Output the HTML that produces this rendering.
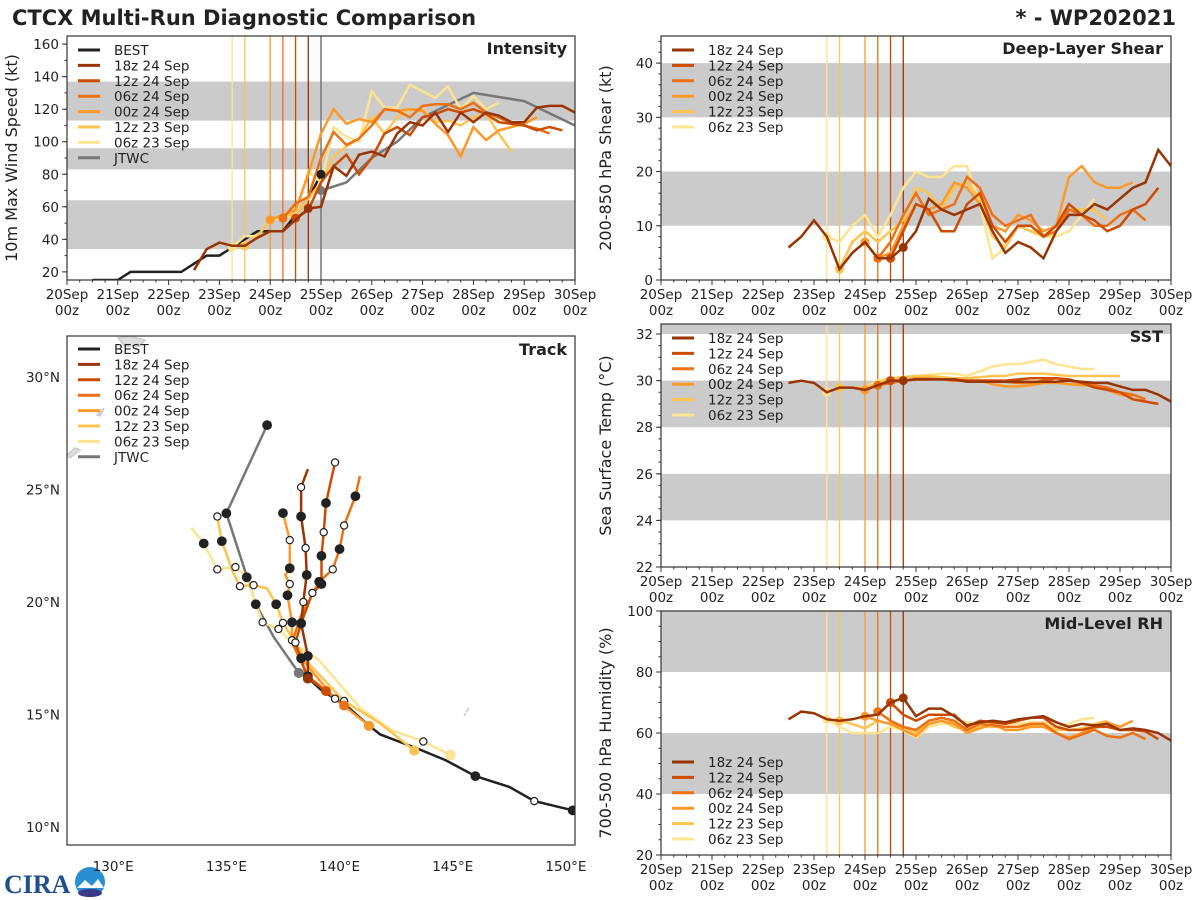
<!DOCTYPE html>
<html><head><meta charset="utf-8">
<style>
html,body{margin:0;padding:0;background:#fff;}
svg{display:block;font-family:"DejaVu Sans","Liberation Sans",sans-serif;}
</style></head>
<body>
<svg id="fig" width="1200" height="900" viewBox="0 0 1200 900" xmlns="http://www.w3.org/2000/svg">
<rect x="0" y="0" width="1200" height="900" fill="#fff"/>
<text x="12" y="25" font-size="21" font-weight="bold" fill="#222">CTCX Multi-Run Diagnostic Comparison</text>
<text x="1176" y="25" font-size="21" font-weight="bold" fill="#222" text-anchor="end">* - WP202021</text>
<g>
<text x="4" y="893" font-size="26" font-weight="bold" fill="#1f4f8f" font-family="Liberation Serif, serif">CIRA</text>
<circle cx="90" cy="882" r="15" fill="#2a8fd0"/>
<path d="M77 888 L85 880 L92 886 L98 879 L104 888 Z" fill="#fff"/>
<ellipse cx="90" cy="893" rx="12" ry="4" fill="#3a3a8a"/>
</g>
</svg>
<script>
// ---- data ----
const runLabels = ['18z 24 Sep','12z 24 Sep','06z 24 Sep','00z 24 Sep','12z 23 Sep','06z 23 Sep'];
const runInit = [24.75, 24.5, 24.25, 24.0, 23.5, 23.25];
const runColors = ['#993404','#cc4c02','#ec7014','#fe9929','#fec44f','#fee391'];
const runNames = ['run-18z24','run-12z24','run-06z24','run-00z24','run-12z23','run-06z23'];

const bestStart = 20.5;
const bestInt = [15,15,15,20,20,20,20,20,25,30,30,35,40,45,45,45,55,65,80];
const jtwcTimes = [25.0,25.5,26.0,26.5,27.0,28.0,29.0,30.0];
const jtwcInt = [70,75,90,100,115,130,125,110];

const intStart = [22.5, 24.5, 24.25, 24.0, 23.5, 23.25];
const int18z24 = [21,34,38,36,36,41,45,45,52,59,60,85,79,92,94,91,105,112,110,118,106,118,112,118,116,112,112,121,122,122,118];
const int12z24 = [53,58,75,85,92,80,90,105,109,104,115,117,120,118,120,117,112,111,110,107,109,107];
const int06z24 = [53,62,66,90,106,98,102,110,120,119,115,122,123,123,120,124,118,115,111,110,108,105];
const int00z24 = [52,55,58,80,105,120,111,114,112,120,119,120,119,111,104,91,109,101,107,109,111,115];
const int12z23 = [36,42,52,55,55,65,75,91,97,102,115,105,115,120,120,112,113,110,115,117,105,94];
const int06z23 = [35,42,42,52,53,55,82,75,109,103,100,131,121,121,135,131,127,134,120,128,120,124];

const shrStart = [22.5, 24.5, 24.25, 24.0, 23.5, 23.25];
const shr18z24 = [6,8,11,8,2,5,7,4,4,6,9,15,13,12,13,14,9,5,7,6,4,9,12,12,14,13,15,17,18,24,21];
const shr12z24 = [4,9,14,13,9,9,14,16,10,7,10,10,8,10,14,12,11,9,10,13,14,17];
const shr06z24 = [4,7,12,16,12,13,14,19,17,12,10,11,12,8,9,13,12,10,10,12,13,11];
const shr00z24 = [7,4,5,10,14,13,14,18,17,14,10,9,12,11,9,10,19,21,18,17,17,18];
const shr12z23 = [2,7,9,7,9,11,17,16,13,17,18,15,8,6,10,9,8,9,13,13,13,11];
const shr06z23 = [8,7,10,12,8,12,17,20,19,19,21,21,14,4,6,10,9,8,8,9,12,15];

const sstStart = [22.5, 24.5, 24.25, 24.0, 23.5, 23.25];
const sst18z24 = [29.9,30.0,29.9,29.5,29.7,29.7,29.6,29.8,30.0,30.0,30.05,30.05,30.05,30.05,29.95,29.95,29.95,29.95,29.95,29.95,29.95,29.95,30.0,29.95,29.9,29.9,29.75,29.6,29.6,29.4,29.1];
const sst12z24 = [30.0,30.0,30.05,30.05,30.05,30.05,30.0,30.0,30.0,30.0,30.05,30.1,30.1,30.1,30.05,29.9,29.7,29.6,29.5,29.2,29.1,29.0];
const sst06z24 = [29.8,29.9,30.0,30.05,30.05,30.05,30.0,30.0,30.0,30.0,29.95,29.9,29.9,30.0,30.1,30.0,29.9,29.8,29.7,29.5,29.4,29.2];
const sst00z24 = [29.6,29.8,29.9,30.0,30.1,30.1,30.05,30.0,30.0,30.0,29.85,29.75,29.75,29.8,29.9,29.9,29.85,29.8,29.8,29.6,29.4,29.3];
const sst12z23 = [29.7,29.7,29.7,29.9,30.1,30.15,30.2,30.2,30.15,30.1,30.1,30.15,30.2,30.2,30.3,30.3,30.3,30.25,30.2,30.2,30.2,30.2,30.2];
const sst06z23 = [29.5,29.7,29.7,29.7,30.0,30.1,30.15,30.2,30.25,30.3,30.3,30.2,30.4,30.6,30.7,30.7,30.8,30.9,30.7,30.6,30.5,30.5];

const rhStart = [22.5, 24.5, 24.25, 24.0, 23.5, 23.25];
const rh18z24 = [64.5,67,66.5,64.5,64,64.5,65.5,66,70,71.5,65.5,68,68,65.5,62.5,63.5,64,63.5,64.5,65,65.5,63.5,62,63,62.5,63,61,61.5,61,60,57.5];
const rh12z24 = [70,66,64,66,66,66,62,64,63.5,63,64,65,65,62,61,61,62,62,61,61,60.5,58];
const rh06z24 = [67,64,62,61,64,65,64,61,63,62.5,62,62,63,63,60,58,59.5,61,59,58.5,60,58];
const rh00z24 = [65.5,64,63,61,59,63,64,63,60,61.5,63,61,61,62,62,60,58.5,60,61.5,63.5,62,64];
const rh12z23 = [64,63,61.5,64,63,62,60,63,64,62,61,62,62,62,62,62.5,63,61,61,61.5,63,64];
const rh06z23 = [64.5,62,60,60,60,62,61,58.5,62,63,64,63.5,63,63,63,63,63.5,63.5,62,63,64.5,65];

// tracks: [lon, lat, marker] marker 0 none, 1 filled, 2 open
const trkBest = [[150.3,10.74,1],[148.6,11.15,2],[147.5,11.78,0],[146.0,12.26,1],[144.7,12.96,0],[143.5,13.46,0],[141.8,14.11,0],[141.3,14.5,0],[140.26,15.43,0],[139.24,16.04,0],[138.56,16.67,0],[138.19,17.0,0]];
const trkJtwc = [[138.2,16.85,1],[137.1,18.43,0],[136.3,19.9,0],[135.0,23.94,1],[136.8,27.86,1]];
const trk18z24 = [[138.6,16.6,1],[138.6,17.6,1],[138.3,19.05,1],[138.4,20.0,2],[138.55,21.2,1],[138.5,22.4,2],[138.3,23.8,1],[138.3,25.1,2],[138.6,25.9,0]];
const trk12z24 = [[139.4,16.04,2],[138.56,16.67,0],[138.05,18.2,2],[138.3,19.05,1],[138.8,20.4,2],[139.2,20.8,1],[139.2,22.05,1],[139.3,23.1,2],[139.4,24.4,1],[139.8,26.2,2]];
const trk06z24 = [[140.2,15.4,0],[138.6,16.7,1],[137.9,18.2,0],[138.3,19.4,0],[139.1,20.9,1],[139.7,21.45,2],[140.0,22.35,1],[140.2,23.4,2],[140.7,24.7,1],[140.9,25.6,0]];
const trk00z24 = [[141.3,14.5,1],[139.8,15.7,2],[138.3,17.5,1],[137.9,18.3,2],[137.9,19.1,1],[137.7,20.3,1],[137.8,20.8,2],[137.6,21.2,0],[137.8,21.5,1],[137.8,22.75,2],[137.5,23.95,1]];
const trk12z23 = [[143.3,13.4,1],[141.8,14.6,0],[140.2,15.6,2],[138.6,17.3,0],[137.5,19.07,2],[137.2,19.9,1],[136.8,20.6,0],[136.2,20.75,2],[135.6,20.7,2],[135.3,21.3,0],[134.8,22.7,1],[134.6,23.8,2]];
const trk06z23 = [[144.9,13.2,1],[143.7,13.8,2],[142.3,14.3,0],[140.9,15.3,0],[139.1,17.4,0],[137.9,18.2,0],[137.3,18.8,2],[136.6,19.1,2],[136.3,19.9,1],[135.9,21.1,1],[135.4,21.55,2],[134.6,21.45,2],[134.0,22.6,1],[133.45,23.3,0]];

const xTickLabels = ['20Sep','21Sep','22Sep','23Sep','24Sep','25Sep','26Sep','27Sep','28Sep','29Sep','30Sep'];
const lonTicks = [130,135,140,145,150];
const latTicks = [10,15,20,25,30];

// ---- drawing ----
const NS = 'http://www.w3.org/2000/svg';
const svg = document.getElementById('fig');
function mk(tag, attrs, parent) {
  const e = document.createElementNS(NS, tag);
  for (const k in attrs) e.setAttribute(k, attrs[k]);
  (parent || svg).appendChild(e);
  return e;
}
function txt(x, y, s, size, anchor, parent, weight) {
  const t = mk('text', {x: x, y: y, 'font-size': size, 'text-anchor': anchor || 'start', fill: '#222'}, parent);
  if (weight) t.setAttribute('font-weight', weight);
  t.textContent = s;
  return t;
}

function timePanel(cfg) {
  const g = mk('g', {});
  
  
  const sx = t => cfg.x0 + (t - 20) / 10 * (cfg.x1 - cfg.x0);
  const sy = v => cfg.y1 - (v - cfg.ymin) / (cfg.ymax - cfg.ymin) * (cfg.y1 - cfg.y0);
  cfg.bands.forEach(b => {
    const top = Math.max(sy(b[1]), cfg.y0), bot = Math.min(sy(b[0]), cfg.y1);
    const r = mk('rect', {x: cfg.x0, y: top, width: cfg.x1 - cfg.x0, height: bot - top, fill: '#cbcbcb'}, g);
    
    
  });
  runInit.forEach((t, i) => {
    const l = mk('line', {x1: sx(t), x2: sx(t), y1: cfg.y0, y2: cfg.y1, stroke: runColors[i], 'stroke-width': 1.3}, g);
    
    
  });
  if (cfg.jtwcLine) {
    const l = mk('line', {x1: sx(25), x2: sx(25), y1: cfg.y0, y2: cfg.y1, stroke: '#777', 'stroke-width': 1.5}, g);
    
    
  }
  const cid = 'clip-' + cfg.name;
  const cp = mk('clipPath', {id: cid}, g);
  mk('rect', {x: cfg.x0, y: cfg.y0, width: cfg.x1 - cfg.x0, height: cfg.y1 - cfg.y0}, cp);
  const sg = mk('g', {'clip-path': 'url(#' + cid + ')'}, g);
  function series(start, vals, color, w, name, dotT) {
    const pts = vals.map((v, i) => sx(start + i * 0.25).toFixed(1) + ',' + sy(v).toFixed(1)).join(' ');
    const p = mk('polyline', {points: pts, fill: 'none', stroke: color, 'stroke-width': w, 'stroke-linejoin': 'miter'}, sg);
    
    
    if (dotT !== undefined) {
      const idx = Math.round((dotT - start) / 0.25);
      if (idx >= 0 && idx < vals.length) {
        const c = mk('circle', {cx: sx(dotT), cy: sy(vals[idx]), r: 4.5, fill: color}, sg);
        
        
      }
    }
  }
  if (cfg.best) {
    series(bestStart, bestInt, '#222', 2.5, 'best-track-line', 25.0);
    const pts = jtwcTimes.map((t, i) => sx(t).toFixed(1) + ',' + sy(jtwcInt[i]).toFixed(1)).join(' ');
    const p = mk('polyline', {points: pts, fill: 'none', stroke: '#777', 'stroke-width': 2.5}, sg);
    
    
    const c = mk('circle', {cx: sx(jtwcTimes[0]), cy: sy(jtwcInt[0]), r: 4.5, fill: '#777'}, sg);
    
    
  }
  for (let i = 5; i >= 0; i--) series(cfg.starts[i], cfg.data[i], runColors[i], 2.5, runNames[i] + '-line', runInit[i]);
  if (cfg.best) {
    const bi = bestInt.length - 1;
    const c = mk('circle', {cx: sx(bestStart + bi * 0.25), cy: sy(bestInt[bi]), r: 4.5, fill: '#222'}, sg);
    
    
  }
  const fr = mk('rect', {x: cfg.x0, y: cfg.y0, width: cfg.x1 - cfg.x0, height: cfg.y1 - cfg.y0, fill: 'none', stroke: '#333', 'stroke-width': 1.2}, g);
  
  
  for (let q = 0; q <= 40; q++) {
    const x = sx(20 + q * 0.25), major = q % 4 === 0;
    mk('line', {x1: x, x2: x, y1: cfg.y1, y2: cfg.y1 + (major ? 5 : 2.5), stroke: '#333', 'stroke-width': 1}, g);
  }
  xTickLabels.forEach((s, i) => {
    const t1 = txt(sx(20 + i), cfg.y1 + 19, s, 13.5, 'middle', g);
    
    
    const t2 = txt(sx(20 + i), cfg.y1 + 35, '00z', 13.5, 'middle', g);
    
    
  });
  cfg.yTicks.forEach(v => {
    const y = sy(v);
    mk('line', {x1: cfg.x0 - 5, x2: cfg.x0, y1: y, y2: y, stroke: '#333'}, g);
    const t = txt(cfg.x0 - 8, y + 5, String(v), 13.5, 'end', g);
    
    
  });
  for (let v = cfg.minorStart; v < cfg.ymax; v += cfg.minorStep) {
    if (v < cfg.ymin) continue;
    const y = sy(v);
    mk('line', {x1: cfg.x0 - 2.5, x2: cfg.x0, y1: y, y2: y, stroke: '#333'}, g);
  }
  const cy = (cfg.y0 + cfg.y1) / 2;
  const yl = txt(0, 0, cfg.ylabel, 16, 'middle', g);
  yl.setAttribute('transform', 'translate(' + (cfg.x0 - 50) + ',' + cy + ') rotate(-90)');
  
  
  const tt = txt(cfg.x1 - 8, cfg.y0 + 18, cfg.title, 16, 'end', g, 'bold');
  
  
  const items = [];
  if (cfg.best) items.push(['BEST', '#222']);
  runLabels.forEach((l, i) => items.push([l, runColors[i]]));
  if (cfg.best) items.push(['JTWC', '#777']);
  items.forEach((it, i) => {
    const y = cfg.legY + i * 15.4;
    const ln = mk('line', {x1: cfg.x0 + 11, x2: cfg.x0 + 33, y1: y, y2: y, stroke: it[1], 'stroke-width': 3}, g);
    
    
    const t = txt(cfg.x0 + 47, y + 5, it[0], 13.5, 'start', g);
    
    
  });
}

timePanel({name: 'intensity-panel', x0: 67, x1: 575, y0: 36, y1: 280, ymin: 15, ymax: 165,
  bands: [[34, 64], [83, 96], [113, 137]], yTicks: [20,40,60,80,100,120,140,160], minorStart: 20, minorStep: 10,
  ylabel: '10m Max Wind Speed (kt)', title: 'Intensity', best: true, jtwcLine: true, legY: 50,
  starts: intStart, data: [int18z24, int12z24, int06z24, int00z24, int12z23, int06z23]});
timePanel({name: 'shear-panel', x0: 661, x1: 1171, y0: 36, y1: 280, ymin: 0, ymax: 45,
  bands: [[10, 20], [30, 40]], yTicks: [0,10,20,30,40], minorStart: 0, minorStep: 2,
  ylabel: '200-850 hPa Shear (kt)', title: 'Deep-Layer Shear', best: false, legY: 50,
  starts: shrStart, data: [shr18z24, shr12z24, shr06z24, shr00z24, shr12z23, shr06z23]});
timePanel({name: 'sst-panel', x0: 661, x1: 1171, y0: 324, y1: 567, ymin: 22, ymax: 32.43,
  bands: [[24, 26], [28, 30], [32, 40]], yTicks: [22,24,26,28,30,32], minorStart: 22, minorStep: 0.5,
  ylabel: 'Sea Surface Temp (°C)', title: 'SST', best: false, legY: 338,
  starts: sstStart, data: [sst18z24, sst12z24, sst06z24, sst00z24, sst12z23, sst06z23]});
timePanel({name: 'rh-panel', x0: 661, x1: 1171, y0: 611, y1: 855, ymin: 20, ymax: 100,
  bands: [[40, 60], [80, 100]], yTicks: [20,40,60,80,100], minorStart: 20, minorStep: 5,
  ylabel: '700-500 hPa Humidity (%)', title: 'Mid-Level RH', best: false, legY: 762,
  starts: rhStart, data: [rh18z24, rh12z24, rh06z24, rh00z24, rh12z23, rh06z23]});

(function() {
  const x0 = 67, x1 = 575, y0 = 336, y1 = 845;
  const lonMin = 127.96, lonMax = 150.4, latMin = 9.2, latMax = 31.82;
  const sx = lon => x0 + (lon - lonMin) / (lonMax - lonMin) * (x1 - x0);
  const sy = lat => y1 - (lat - latMin) / (latMax - latMin) * (y1 - y0);
  const g = mk('g', {});
  
  
  const cp = mk('clipPath', {id: 'clip-track'}, g);
  mk('rect', {x: x0, y: y0, width: x1 - x0, height: y1 - y0}, cp);
  const sg = mk('g', {'clip-path': 'url(#clip-track)'}, g);
  const coast = mk('path', {d: 'M118 338 L130 336 L145 340 L140 346 L125 346 Z M67 455 L75 448 L80 450 L70 458 Z M97 415 L104 408 L100 416 Z M466 712 L469 708 M464 716 L466 713', fill: '#ddd', stroke: '#ccc', 'stroke-width': 1.5}, sg);
  
  
  function track(pts, color, name) {
    const p = mk('polyline', {points: pts.map(q => sx(q[0]).toFixed(1) + ',' + sy(q[1]).toFixed(1)).join(' '), fill: 'none', stroke: color, 'stroke-width': 2.5}, sg);
    
    
  }
  function markers(pts, name) {
    pts.forEach(q => {
      if (!q[2]) return;
      const c = mk('circle', {cx: sx(q[0]), cy: sy(q[1]), r: q[2] === 1 ? 4.3 : 3.6, fill: q[2] === 1 ? '#222' : '#fff', stroke: '#222', 'stroke-width': 1.2}, sg);
      
      
    });
  }
  const runs = [trk18z24, trk12z24, trk06z24, trk00z24, trk12z23, trk06z23];
  track(trkBest, '#222', 'best-track');
  track(trkJtwc, '#777', 'jtwc-track');
  for (let i = 5; i >= 0; i--) track(runs[i], runColors[i], runNames[i] + '-track');
  markers(trkBest, 'best-track');
  markers(trkJtwc, 'jtwc-track');
  for (let i = 5; i >= 0; i--) markers(runs[i], runNames[i] + '-track');
  for (let i = 0; i < 6; i++) {
    const c = mk('circle', {cx: sx(runs[i][0][0]), cy: sy(runs[i][0][1]), r: 5, fill: runColors[i]}, sg);
    
    
  }
  const jc = mk('circle', {cx: sx(trkJtwc[0][0]), cy: sy(trkJtwc[0][1]), r: 5, fill: '#777'}, sg);
  
  
  const fr = mk('rect', {x: x0, y: y0, width: x1 - x0, height: y1 - y0, fill: 'none', stroke: '#333', 'stroke-width': 1.2}, g);
  
  
  lonTicks.forEach(l => {
    const t = txt(sx(l), 871, l + '°E', 13.5, 'middle', g);
    
    
  });
  latTicks.forEach(l => {
    const t = txt(60, sy(l) + 5, l + '°N', 13.5, 'end', g);
    
    
  });
  const tt = txt(x1 - 8, y0 + 19, 'Track', 16, 'end', g, 'bold');
  
  
  const items = [['BEST', '#222']];
  runLabels.forEach((l, i) => items.push([l, runColors[i]]));
  items.push(['JTWC', '#777']);
  items.forEach((it, i) => {
    const y = 349 + i * 15.4;
    const ln = mk('line', {x1: 78, x2: 100, y1: y, y2: y, stroke: it[1], 'stroke-width': 3}, g);
    
    
    const t = txt(114, y + 5, it[0], 13.5, 'start', g);
    
    
  });
})();
</script>
</body></html>
